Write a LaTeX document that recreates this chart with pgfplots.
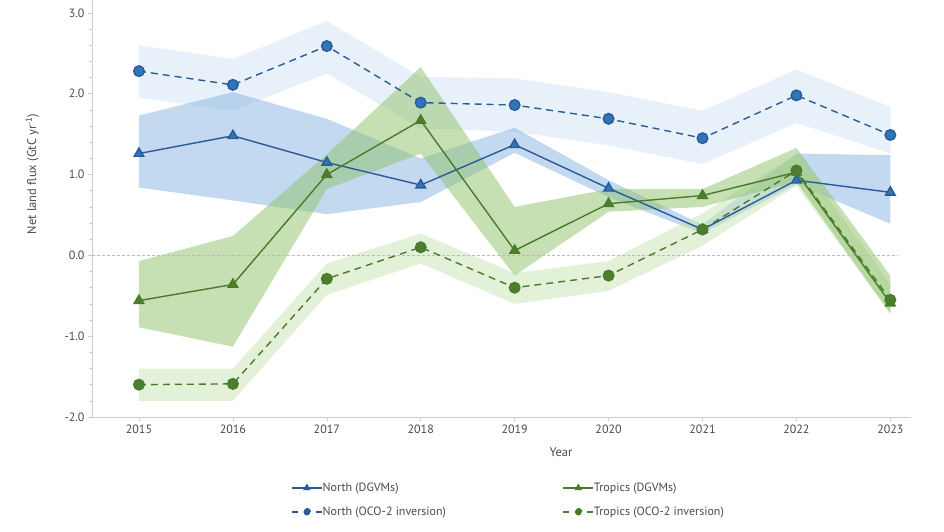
\documentclass[border=0pt]{standalone}
\usepackage{fontspec}
\setmainfont{PT Sans}
\usepackage{pgfplots}
\usepackage{pgfplotstable}
\usepgfplotslibrary{fillbetween}
\pgfplotsset{compat=1.18}
\definecolor{axisgrey}{HTML}{CCCCCC}
\definecolor{labelgrey}{HTML}{4A4A4A}
\definecolor{zerogrey}{HTML}{BBBBBB}
\definecolor{nline}{HTML}{2A5A9A}
\definecolor{nmark}{HTML}{2F76B9}
\definecolor{tline}{HTML}{4A7B2B}
\definecolor{tmark}{HTML}{4C7F2D}
\definecolor{bandNlight}{HTML}{D2E4F5}
\definecolor{bandNmed}{HTML}{88B3E0}
\definecolor{bandTmed}{HTML}{8EC26A}
\definecolor{bandTlight}{HTML}{C6E3B2}

\pgfplotstableread{
year v up lo
2015 1.26 1.73 0.84
2016 1.48 2.02 0.68
2017 1.15 1.69 0.51
2018 0.87 1.20 0.66
2019 1.37 1.58 1.27
2020 0.83 0.93 0.72
2021 0.32 0.38 0.27
2022 0.93 1.26 0.88
2023 0.78 1.24 0.39
}\northdgvm
\pgfplotstableread{
year v up lo
2015 2.28 2.60 1.95
2016 2.11 2.43 1.79
2017 2.59 2.90 2.25
2018 1.89 2.21 1.57
2019 1.86 2.19 1.53
2020 1.69 2.02 1.36
2021 1.45 1.79 1.13
2022 1.98 2.30 1.64
2023 1.49 1.84 1.26
}\northoco
\pgfplotstableread{
year v up lo
2015 -0.56 -0.07 -0.89
2016 -0.36 0.24 -1.13
2017 1.00 1.25 0.82
2018 1.67 2.33 1.26
2019 0.06 0.60 -0.25
2020 0.64 0.82 0.54
2021 0.74 0.82 0.60
2022 1.03 1.33 0.91
2023 -0.59 -0.25 -0.72
}\tropdgvm
\pgfplotstableread{
year v up lo
2015 -1.60 -1.40 -1.80
2016 -1.59 -1.40 -1.80
2017 -0.29 -0.10 -0.49
2018 0.10 0.27 -0.10
2019 -0.40 -0.22 -0.60
2020 -0.25 -0.07 -0.44
2021 0.32 0.52 0.12
2022 1.05 1.25 0.86
2023 -0.55 -0.35 -0.72
}\tropoco

\begin{document}
\begin{tikzpicture}
\begin{axis}[
  at={(0pt,0pt)}, anchor=south west,
  scale only axis, width=819pt, height=417pt,
  xmin=2014.5, xmax=2023.22, ymin=-2, ymax=3.16,
  axis x line*=bottom, axis y line*=left,
  axis line style={draw=axisgrey, line width=0.8pt},
  xtick={2015,2016,2017,2018,2019,2020,2021,2022,2023},
  xticklabel style={/pgf/number format/1000 sep={}},
  ytick={-2,-1,0,1,2,3},
  minor y tick num=4,
  yticklabel style={/pgf/number format/.cd, fixed, fixed zerofill, precision=1},
  /pgf/number format/assume math mode=true,
  tick align=outside,
  major tick length=4pt, minor tick length=3pt,
  tick style={draw=axisgrey, line width=0.6pt},
  every tick label/.append style={font=\fontsize{12}{14}\selectfont, text=labelgrey},
  xlabel={Year},
  xlabel style={at={(rel axis cs:0.5727,-0.084)}, anchor=center, font=\fontsize{12.5}{14}\selectfont, text=labelgrey},
  ylabel={Net land flux (GtC yr\textsuperscript{-1})},
  ylabel style={at={(rel axis cs:-0.073,0.583)}, anchor=center, font=\fontsize{12.5}{14}\selectfont, text=labelgrey},
  legend columns=2,
  legend cell align=left,
  legend style={draw=none, fill=none, at={(rel axis cs:0.2393,-0.199)}, anchor=west,
    font=\fontsize{12}{14}\selectfont, text=labelgrey, row sep=10pt,
    /tikz/every odd column/.append style={column sep=-2pt}},
  clip=false,
]
% bands
\addplot[draw=none, name path=nou, forget plot] table[x=year,y=up]{\northoco};
\addplot[draw=none, name path=nol, forget plot] table[x=year,y=lo]{\northoco};
\addplot[fill=bandNlight, fill opacity=0.5, draw=none, forget plot] fill between[of=nou and nol];
\addplot[draw=none, name path=ndu, forget plot] table[x=year,y=up]{\northdgvm};
\addplot[draw=none, name path=ndl, forget plot] table[x=year,y=lo]{\northdgvm};
\addplot[fill=bandNmed, fill opacity=0.5, draw=none, forget plot] fill between[of=ndu and ndl];
\addplot[draw=none, name path=tou, forget plot] table[x=year,y=up]{\tropoco};
\addplot[draw=none, name path=tol, forget plot] table[x=year,y=lo]{\tropoco};
\addplot[fill=bandTlight, fill opacity=0.5, draw=none, forget plot] fill between[of=tou and tol];
\addplot[draw=none, name path=tdu, forget plot] table[x=year,y=up]{\tropdgvm};
\addplot[draw=none, name path=tdl, forget plot] table[x=year,y=lo]{\tropdgvm};
\addplot[fill=bandTmed, fill opacity=0.5, draw=none, forget plot] fill between[of=tdu and tdl];
% zero line
\addplot[draw=zerogrey, dash pattern=on 3pt off 2pt, line width=0.8pt, forget plot]
  coordinates {(2014.5,0) (2023.08,0)};
% lines
\addplot[nline, line width=1.4pt, mark=triangle*, mark size=5.5pt,
  mark options={solid, fill=nmark, draw=none},
  legend image code/.code={\draw[mark repeat=2,mark phase=2, mark options={scale=0.55}] plot coordinates {(0pt,0pt) (15pt,0pt) (30pt,0pt)};}]
  table[x=year,y=v]{\northdgvm};
\addlegendentry{\makebox[238pt][l]{North (DGVMs)}}
\addplot[tline, line width=1.4pt, mark=triangle*, mark size=5.5pt,
  mark options={solid, fill=tmark, draw=none},
  legend image code/.code={\draw[mark repeat=2,mark phase=2, mark options={scale=0.55}] plot coordinates {(0pt,0pt) (15pt,0pt) (30pt,0pt)};}]
  table[x=year,y=v]{\tropdgvm};
\addlegendentry{\makebox[238pt][l]{Tropics (DGVMs)}}
\addplot[nline, line width=1.4pt, dash pattern=on 7pt off 5pt, mark=*, mark size=5.3pt,
  mark options={solid, fill=nmark, draw=none},
  legend image code/.code={\draw[dash pattern=on 6pt off 18pt, mark repeat=2,mark phase=2, mark options={scale=0.65}] plot coordinates {(0pt,0pt) (15pt,0pt) (30pt,0pt)};\draw[solid] (24pt,0pt) -- (30pt,0pt);}]
  table[x=year,y=v]{\northoco};
\addlegendentry{\makebox[238pt][l]{North (OCO-2 inversion)}}
\addplot[tline, line width=1.4pt, dash pattern=on 7pt off 5pt, mark=*, mark size=5.3pt,
  mark options={solid, fill=tmark, draw=none},
  legend image code/.code={\draw[dash pattern=on 6pt off 18pt, mark repeat=2,mark phase=2, mark options={scale=0.65}] plot coordinates {(0pt,0pt) (15pt,0pt) (30pt,0pt)};\draw[solid] (24pt,0pt) -- (30pt,0pt);}]
  table[x=year,y=v]{\tropoco};
\addlegendentry{\makebox[238pt][l]{Tropics (OCO-2 inversion)}}
\end{axis}
\pgfresetboundingbox
\path[use as bounding box] (-92pt,-114pt) rectangle (852pt,417pt);
\end{tikzpicture}
\end{document}
